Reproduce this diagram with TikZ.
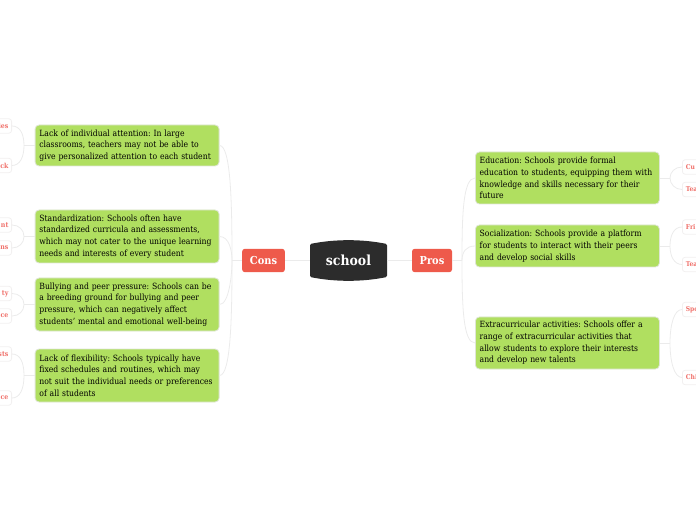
\documentclass[tikz,border=0pt]{standalone}
\usepackage{fontspec}
\setmainfont{DejaVu Serif Condensed}
\frenchspacing
\usepackage{tikz}
\definecolor{leafgreen}{HTML}{B0DF60}
\definecolor{leafline}{HTML}{DFE5D6}
\definecolor{topicred}{HTML}{EE5A4B}
\definecolor{darkhub}{HTML}{2C2C2C}
\definecolor{twigline}{HTML}{EBEBEB}
\definecolor{tagline}{HTML}{F2F0F0}
\definecolor{tagtext}{HTML}{F0706A}
\tikzset{
    topicbox/.style={fill=topicred,text=white,rounded corners=2pt,inner sep=0pt,minimum height=17.5pt,font=\fontsize{8.2}{9}\selectfont\bfseries},
    leafbox/.style={draw=leafline,line width=0.6pt,fill=leafgreen,rounded corners=3pt,inner xsep=3.2pt,inner ysep=0pt,minimum width=138pt,text width=131.6pt,align=left,font=\fontsize{6.42}{8.75}\selectfont},
    lefttag/.style={draw=tagline,line width=0.6pt,fill=white,text=tagtext,rounded corners=2pt,anchor=east,inner xsep=2.4pt,inner ysep=0pt,minimum height=10.8pt,text width=40pt,align=right,font=\fontsize{5.2}{6}\selectfont\bfseries},
    righttag/.style={draw=tagline,line width=0.6pt,fill=white,text=tagtext,rounded corners=2pt,anchor=west,inner xsep=2.6pt,inner ysep=0pt,minimum height=10.8pt,text width=40pt,align=left,font=\fontsize{5}{6}\selectfont\bfseries},
    trunk/.style={draw=twigline,line width=0.9pt},
    twig/.style={draw=twigline,line width=0.6pt}
}
\begin{document}
\begin{tikzpicture}[x=0.75pt,y=-0.75pt]
    \useasboundingbox (0,0) rectangle (696,520);
    \clip (0,0) rectangle (696,520);
    % Junctions
    \coordinate (consjoint) at (232,260.5);
    \coordinate (prosjoint) at (462,260.5);
    \coordinate (lackjoint)  at (24,145.5);
    \coordinate (standjoint) at (24,236.5);
    \coordinate (bullyjoint) at (24,304.5);
    \coordinate (flexjoint)  at (24,375.5);
    \coordinate (edujoint)   at (670,178);
    \coordinate (socjoint)   at (670,246);
    \coordinate (extrajoint) at (670,343);
    % Center
    \fill[darkhub,rounded corners=1pt] (310,244) .. controls (335,239) and (362,239) .. (387,244) -- (387,277) .. controls (362,282) and (335,282) .. (310,277) -- cycle;
    \node[text=white,inner sep=0pt,minimum width=57.75pt,minimum height=30.75pt,font=\fontsize{10.4}{12}\selectfont\bfseries] (school) at (348.5,260.5) {school};
    % Topics
    \node[topicbox,minimum width=32pt] (cons) at (263.5,260.5) {Cons};
    \node[topicbox,minimum width=30pt] (pros) at (432,260.5) {Pros};
    % Left leaves
    \node[leafbox,anchor=east,minimum height=30.75pt] (lack)  at (219.5,145.5) {Lack of individual attention: In large\\classrooms, teachers may not be able to\\give personalized attention to each student};
    \node[leafbox,anchor=east,minimum height=39.75pt] (stand) at (219.5,236.5) {Standardization: Schools often have\\standardized curricula and assessments,\\which may not cater to the unique learning\\needs and interests of every student};
    \node[leafbox,anchor=east,minimum height=39.75pt] (bully) at (219.5,304.5) {Bullying and peer pressure: Schools can be\\a breeding ground for bullying and peer\\pressure, which can negatively affect\\students' mental and emotional well-being};
    \node[leafbox,anchor=east,minimum height=39.75pt] (flex)  at (219.5,375.5) {Lack of flexibility: Schools typically have\\fixed schedules and routines, which may\\not suit the individual needs or preferences\\of all students};
    % Right leaves
    \node[leafbox,anchor=west,minimum height=39pt]    (edu)   at (475,178) {Education: Schools provide formal\\education to students, equipping them with\\knowledge and skills necessary for their\\future};
    \node[leafbox,anchor=west,minimum height=31.5pt]  (soc)   at (475,246) {Socialization: Schools provide a platform\\for students to interact with their peers\\and develop social skills};
    \node[leafbox,anchor=west,minimum height=39pt]    (extra) at (475,343) {Extracurricular activities: Schools offer a\\range of extracurricular activities that\\allow students to explore their interests\\and develop new talents};
    % Left tags
    \node[lefttag] (lacka)  at (12,126)   {ies};
    \node[lefttag] (lackb)  at (12,165.5) {ck};
    \node[lefttag] (standa) at (12,225)   {nt};
    \node[lefttag] (standb) at (12,248)   {ns};
    \node[lefttag] (bullya) at (12,293.5) {ty};
    \node[lefttag] (bullyb) at (12,316)   {ce};
    \node[lefttag] (flexa)  at (12,354)   {sts};
    \node[lefttag] (flexb)  at (12,398)   {ce};
    % Right tags
    \node[righttag] (edua)   at (682,167)   {Cu};
    \node[righttag] (edub)   at (682,189.5) {Tea};
    \node[righttag] (soca)   at (682,227)   {Fri};
    \node[righttag] (socb)   at (682,264.5) {Tea};
    \node[righttag] (extraa) at (682,309.5) {Spo};
    \node[righttag] (extrab) at (682,377.5) {Chi};
    % Trunk lines
    \draw[trunk] (school.east) -- (pros.west);
    \draw[trunk] (school.west) -- (cons.east);
    \draw[trunk] (pros.east) -- (prosjoint);
    \draw[trunk] (cons.west) -- (consjoint);
    % Branches to leaves
    \draw[twig] (prosjoint) .. controls (462,215) and (463,178) .. (edu.west);
    \draw[twig] (prosjoint) .. controls (462,252) and (466,246) .. (soc.west);
    \draw[twig] (prosjoint) .. controls (462,305) and (463,343) .. (extra.west);
    \draw[twig] (consjoint) .. controls (232,205) and (231,145.5) .. (lack.east);
    \draw[twig] (consjoint) .. controls (232,250) and (229,236.5) .. (stand.east);
    \draw[twig] (consjoint) .. controls (232,275) and (229,304.5) .. (bully.east);
    \draw[twig] (consjoint) .. controls (232,315) and (231,375.5) .. (flex.east);
    % Left twigs
    \draw[twig] (lack.west) -- (lackjoint);
    \draw[twig] (lackjoint) .. controls (24,134) and (20,126) .. (lacka.east);
    \draw[twig] (lackjoint) .. controls (24,157) and (20,165.5) .. (lackb.east);
    \draw[twig] (stand.west) -- (standjoint);
    \draw[twig] (standjoint) .. controls (24,230) and (19,225) .. (standa.east);
    \draw[twig] (standjoint) .. controls (24,243) and (19,248) .. (standb.east);
    \draw[twig] (bully.west) -- (bullyjoint);
    \draw[twig] (bullyjoint) .. controls (24,298) and (19,293.5) .. (bullya.east);
    \draw[twig] (bullyjoint) .. controls (24,311) and (19,316) .. (bullyb.east);
    \draw[twig] (flex.west) -- (flexjoint);
    \draw[twig] (flexjoint) .. controls (24,362) and (20,354) .. (flexa.east);
    \draw[twig] (flexjoint) .. controls (24,389) and (20,398) .. (flexb.east);
    % Right twigs
    \draw[twig] (edu.east) -- (edujoint);
    \draw[twig] (edujoint) .. controls (670,172) and (675,167) .. (edua.west);
    \draw[twig] (edujoint) .. controls (670,184) and (675,189.5) .. (edub.west);
    \draw[twig] (soc.east) -- (socjoint);
    \draw[twig] (socjoint) .. controls (670,235) and (674,227) .. (soca.west);
    \draw[twig] (socjoint) .. controls (670,256) and (674,264.5) .. (socb.west);
    \draw[twig] (extra.east) -- (extrajoint);
    \draw[twig] (extrajoint) .. controls (670,325) and (674,309.5) .. (extraa.west);
    \draw[twig] (extrajoint) .. controls (670,361) and (674,377.5) .. (extrab.west);
\end{tikzpicture}
\end{document}
